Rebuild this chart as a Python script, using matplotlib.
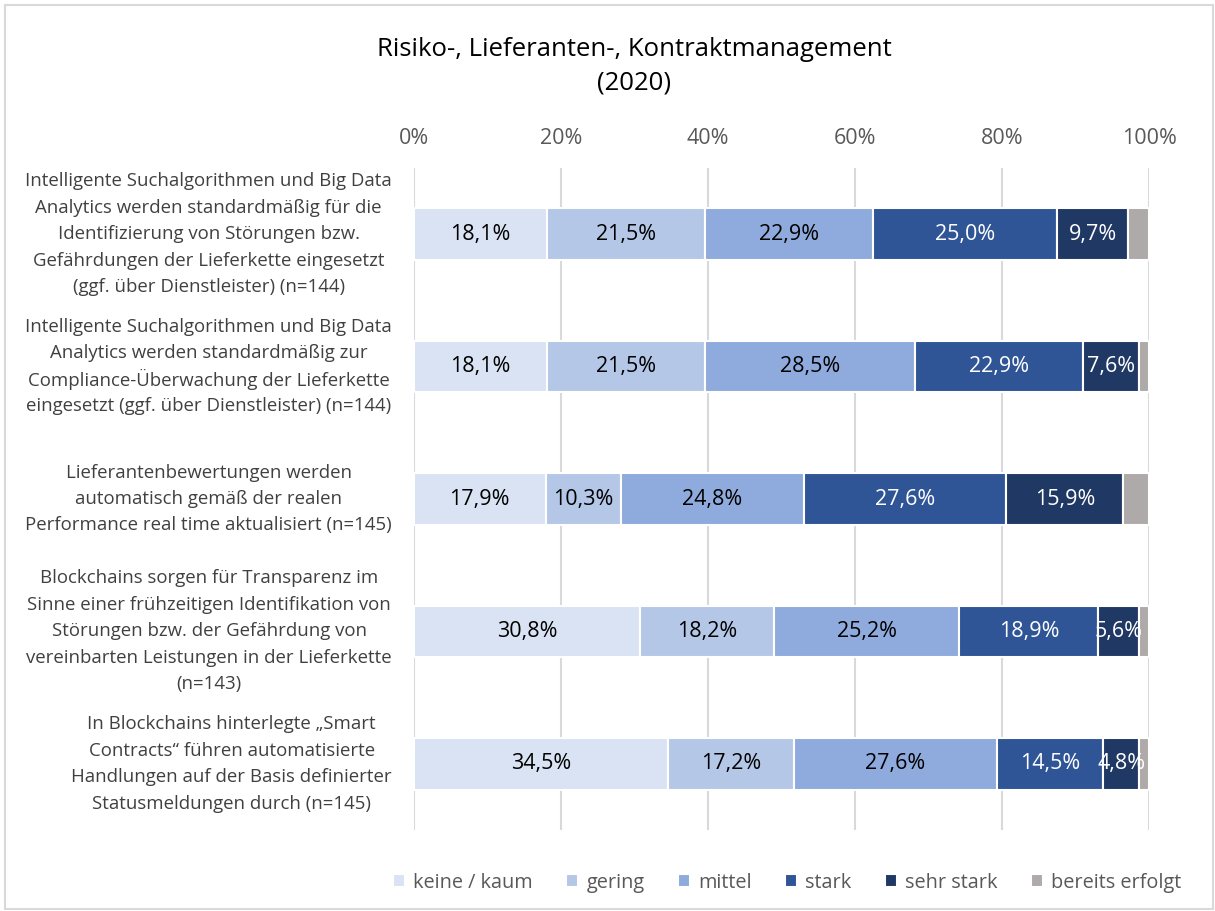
import matplotlib.pyplot as plt
import matplotlib.transforms as mtransforms
import numpy as np
from matplotlib.patches import Rectangle

plt.rcParams["font.family"] = ["Open Sans", "DejaVu Sans"]

categories = [
    "Intelligente Suchalgorithmen und Big Data\nAnalytics werden standardmäßig für die\n"
    "Identifizierung von Störungen bzw.\nGefährdungen der Lieferkette eingesetzt\n"
    "(ggf. über Dienstleister) (n=144)",
    "Intelligente Suchalgorithmen und Big Data\nAnalytics werden standardmäßig zur\n"
    "Compliance-Überwachung der Lieferkette\neingesetzt (ggf. über Dienstleister) (n=144)",
    "Lieferantenbewertungen werden\nautomatisch gemäß der realen\n"
    "Performance real time aktualisiert (n=145)",
    "Blockchains sorgen für Transparenz im\nSinne einer frühzeitigen Identifikation von\n"
    "Störungen bzw. der Gefährdung von\nvereinbarten Leistungen in der Lieferkette\n(n=143)",
    "In Blockchains hinterlegte „Smart\nContracts“ führen automatisierte\n"
    "Handlungen auf der Basis definierter\nStatusmeldungen durch (n=145)",
]

series_names = ["keine / kaum", "gering", "mittel", "stark", "sehr stark", "bereits erfolgt"]
keine_kaum = [18.1, 18.1, 17.9, 30.8, 34.5]
gering = [21.5, 21.5, 10.3, 18.2, 17.2]
mittel = [22.9, 28.5, 24.8, 25.2, 27.6]
stark = [25.0, 22.9, 27.6, 18.9, 14.5]
sehr_stark = [9.7, 7.6, 15.9, 5.6, 4.8]
bereits_erfolgt = [2.8, 1.4, 3.5, 1.3, 1.4]

series = [keine_kaum, gering, mittel, stark, sehr_stark, bereits_erfolgt]
colors = ["#DAE3F3", "#B4C7E7", "#8FAADC", "#2F5597", "#203864", "#AEAAAA"]
label_colors = ["black", "black", "black", "white", "white", None]

fig = plt.figure(figsize=(12.15, 9.11), dpi=100)
ax = fig.add_axes([0.3407, 0.0889, 0.605, 0.7267])

y = np.arange(len(categories))
left = np.zeros(len(categories))
for name, vals, col, lc in zip(series_names, series, colors, label_colors):
    vals = np.array(vals)
    bars = ax.barh(y, vals, left=left, height=0.39, color=col,
                   edgecolor="white", linewidth=1.5, label=name, zorder=3)
    if lc is not None:
        for b, v in zip(bars, vals):
            ax.text(b.get_x() + b.get_width() / 2, b.get_y() + b.get_height() / 2,
                    f"{v:.1f}%".replace(".", ","), ha="center", va="center",
                    fontsize=15.5, color=lc, zorder=4)
    left += vals

ax.set_xlim(0, 100)
ax.set_ylim(len(categories) - 0.5, -0.5)
ax.xaxis.tick_top()
ax.set_xticks(np.arange(0, 101, 20))
ax.set_xticklabels([f"{t}%" for t in range(0, 101, 20)])
ax.tick_params(axis="x", length=0, pad=13.5, labelsize=15.5, labelcolor="#595959")
ax.set_yticks([])
ax.grid(axis="x", color="#D9D9D9", linewidth=1.5, zorder=0)
for s in ax.spines.values():
    s.set_visible(False)

# category labels: one text per line so accented capitals don't stretch the spacing,
# lines centred on the block, block right-aligned next to the axis
renderer = fig.canvas.get_renderer()
line_step = 0.2  # in data units
right_px = 22
trans = mtransforms.blended_transform_factory(ax.transAxes, ax.transData)
for yi, cat in zip(y, categories):
    lines = cat.split("\n")
    widths = []
    for ln in lines:
        t = fig.text(0, 0, ln, fontsize=13.4)
        widths.append(t.get_window_extent(renderer).width)
        t.remove()
    block_w = max(widths)
    ax_w = ax.get_window_extent(renderer).width
    xc = -(right_px + block_w / 2) / ax_w
    n = len(lines)
    for i, ln in enumerate(lines):
        ax.text(xc, yi + (i - (n - 1) / 2) * line_step, ln, transform=trans,
                ha="center", va="center", fontsize=13.4, color="#404040",
                clip_on=False)

fig.text(0.522, 0.927, "Risiko-, Lieferanten-, Kontraktmanagement\n(2020)",
         ha="center", va="center", fontsize=18.5, color="black", linespacing=1.45)

ax.legend(loc="center", bbox_to_anchor=(0.648, 0.031), bbox_transform=fig.transFigure,
          ncol=6, frameon=False, fontsize=14.3, labelcolor="#595959",
          handlelength=0.6, handleheight=0.6, handletextpad=0.4, columnspacing=1.7)

fig.patches.append(Rectangle((0.004, 0.002), 0.994, 0.992, transform=fig.transFigure,
                             fill=False, edgecolor="#D9D9D9", linewidth=1.5))

fig.savefig("out.png", dpi=100)
